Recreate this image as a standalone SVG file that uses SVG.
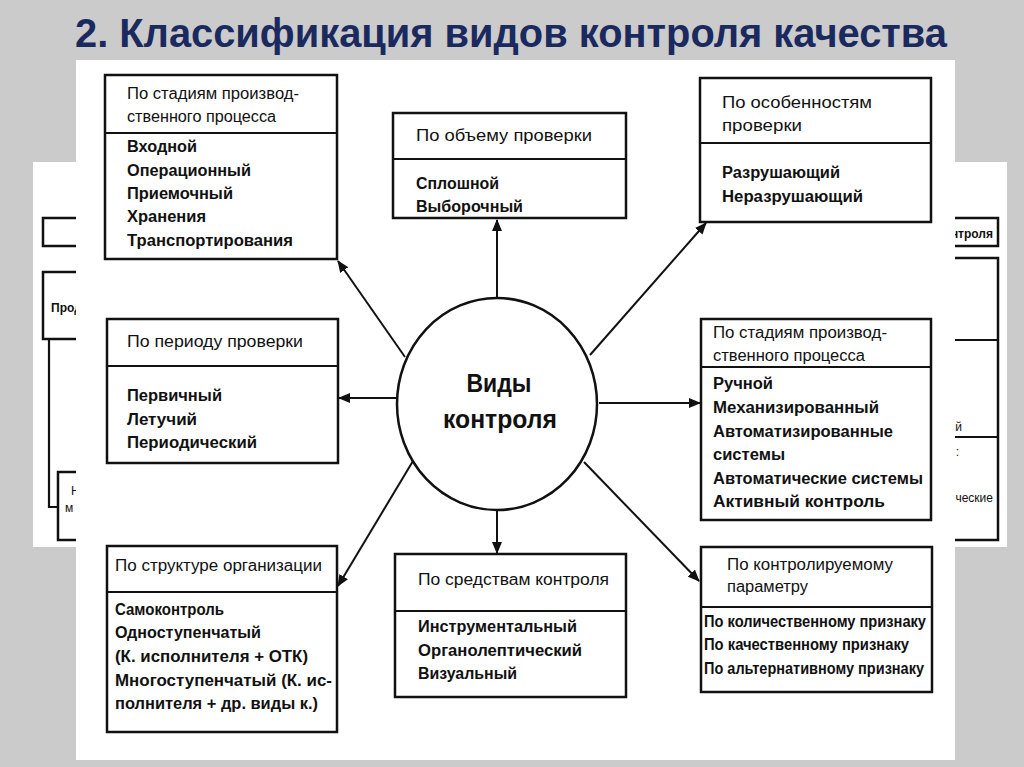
<svg xmlns="http://www.w3.org/2000/svg" width="1024" height="767" viewBox="0 0 1024 767">
<style>
.box{fill:#fff;stroke:#111;stroke-width:2.5}
.ln{stroke:#111;stroke-width:2.2;fill:none}
.hd{font-family:"Liberation Sans","DejaVu Sans",sans-serif;font-size:16px;fill:#111}
.bd{font-family:"Liberation Sans","DejaVu Sans",sans-serif;font-size:16px;font-weight:bold;fill:#111}
.sm{font-family:"Liberation Sans","DejaVu Sans",sans-serif;font-size:12px;fill:#111}
.con{stroke:#111;stroke-width:2;fill:none;marker-end:url(#ah)}
</style>
<defs>
<marker id="ah" markerWidth="12" markerHeight="10" refX="11" refY="5" orient="auto" markerUnits="userSpaceOnUse">
<path d="M0,0 L12,5 L0,10 Z" fill="#111"/>
</marker>
</defs>
<rect x="0" y="0" width="1024" height="767" fill="#cbcbcb"/>
<text x="75" y="47" font-family="'Liberation Sans',Arial,sans-serif" font-size="41" font-weight="bold" fill="#1b2a5e" textLength="872" lengthAdjust="spacingAndGlyphs">2. Классификация видов контроля качества</text>

<g id="background-slide">
<rect x="33" y="162" width="974" height="385" fill="#fff"/>
<rect x="43" y="218" width="60" height="28" class="box" stroke-width="2"/>
<rect x="43" y="272" width="60" height="67" class="box" stroke-width="2"/>
<text x="51" y="312" class="sm" font-weight="bold">Прод</text>
<path d="M49,339 V507 H58" class="ln"/>
<rect x="58" y="472" width="50" height="68" class="box" stroke-width="2"/>
<text x="71" y="495" class="sm">Н</text>
<text x="65" y="512" class="sm" font-size="10">м</text>
<rect x="930" y="218" width="68" height="28" class="box" stroke-width="2"/>
<text x="993" y="238" class="sm" font-weight="bold" text-anchor="end">нтроля</text>
<rect x="930" y="258" width="68" height="282" class="box" stroke-width="2"/>
<path d="M930,340 H998 M930,437 H998" class="ln" stroke-width="2"/>
<text x="962" y="431" class="sm" text-anchor="end">й</text>
<text x="959" y="456" class="sm" text-anchor="end">:</text>
<text x="993" y="502" class="sm" text-anchor="end">ческие</text>
</g>

<rect x="76" y="60" width="879" height="700" fill="#fff"/>

<g id="connectors">
<line x1="497" y1="298" x2="497" y2="220" class="con"/>
<line x1="405" y1="357" x2="338" y2="261" class="con"/>
<line x1="590" y1="355" x2="706" y2="223" class="con"/>
<line x1="397" y1="398" x2="339" y2="398" class="con"/>
<line x1="599" y1="403" x2="700" y2="403" class="con"/>
<line x1="413" y1="461" x2="338" y2="586" class="con"/>
<line x1="497" y1="510" x2="497" y2="553" class="con"/>
<line x1="584" y1="462" x2="699" y2="581" class="con"/>
</g>

<g id="center">
<ellipse cx="497" cy="404" rx="100" ry="106" class="box"/>
<text x="499" y="392" font-family="'Liberation Sans',Arial,sans-serif" font-size="25" font-weight="bold" fill="#111" text-anchor="middle" textLength="65" lengthAdjust="spacingAndGlyphs">Виды</text>
<text x="500" y="428" font-family="'Liberation Sans',Arial,sans-serif" font-size="25" font-weight="bold" fill="#111" text-anchor="middle" textLength="114" lengthAdjust="spacingAndGlyphs">контроля</text>
</g>

<g id="box-stages">
<rect x="105" y="75" width="232" height="184" class="box"/>
<line x1="105" y1="133" x2="337" y2="133" class="ln"/>
<text x="127" y="99" class="hd" textLength="172" lengthAdjust="spacingAndGlyphs">По стадиям производ-</text>
<text x="127" y="122" class="hd" textLength="149" lengthAdjust="spacingAndGlyphs">ственного процесса</text>
<text x="127" y="152" class="bd" textLength="70" lengthAdjust="spacingAndGlyphs">Входной</text>
<text x="127" y="176" class="bd" textLength="124" lengthAdjust="spacingAndGlyphs">Операционный</text>
<text x="127" y="199" class="bd" textLength="106" lengthAdjust="spacingAndGlyphs">Приемочный</text>
<text x="127" y="222" class="bd" textLength="79" lengthAdjust="spacingAndGlyphs">Хранения</text>
<text x="127" y="246" class="bd" textLength="166" lengthAdjust="spacingAndGlyphs">Транспортирования</text>
</g>

<g id="box-volume">
<rect x="393" y="113" width="233" height="105" class="box"/>
<line x1="393" y1="159" x2="626" y2="159" class="ln"/>
<text x="416" y="141" class="hd" textLength="176" lengthAdjust="spacingAndGlyphs">По  объему проверки</text>
<text x="416" y="189" class="bd" textLength="83" lengthAdjust="spacingAndGlyphs">Сплошной</text>
<text x="416" y="212" class="bd" textLength="107" lengthAdjust="spacingAndGlyphs">Выборочный</text>
</g>

<g id="box-features">
<rect x="700" y="78" width="231" height="144" class="box"/>
<line x1="700" y1="143" x2="931" y2="143" class="ln"/>
<text x="722" y="108" class="hd" textLength="150" lengthAdjust="spacingAndGlyphs">По  особенностям</text>
<text x="722" y="131" class="hd" textLength="80" lengthAdjust="spacingAndGlyphs">проверки</text>
<text x="722" y="178" class="bd" textLength="118" lengthAdjust="spacingAndGlyphs">Разрушающий</text>
<text x="722" y="202" class="bd" textLength="141" lengthAdjust="spacingAndGlyphs">Неразрушающий</text>
</g>

<g id="box-period">
<rect x="107" y="319" width="231" height="144" class="box"/>
<line x1="107" y1="366" x2="338" y2="366" class="ln"/>
<text x="127" y="347" class="hd" textLength="176" lengthAdjust="spacingAndGlyphs">По  периоду  проверки</text>
<text x="127" y="401" class="bd" textLength="95" lengthAdjust="spacingAndGlyphs">Первичный</text>
<text x="127" y="425" class="bd" textLength="70" lengthAdjust="spacingAndGlyphs">Летучий</text>
<text x="127" y="448" class="bd" textLength="130" lengthAdjust="spacingAndGlyphs">Периодический</text>
</g>

<g id="box-mechanization">
<rect x="701" y="319" width="230" height="201" class="box"/>
<line x1="701" y1="367" x2="931" y2="367" class="ln"/>
<text x="713" y="338" class="hd" textLength="174" lengthAdjust="spacingAndGlyphs">По стадиям производ-</text>
<text x="713" y="361" class="hd" textLength="152" lengthAdjust="spacingAndGlyphs">ственного процесса</text>
<text x="713" y="389" class="bd" textLength="60" lengthAdjust="spacingAndGlyphs">Ручной</text>
<text x="713" y="413" class="bd" textLength="166" lengthAdjust="spacingAndGlyphs">Механизированный</text>
<text x="713" y="437" class="bd" textLength="180" lengthAdjust="spacingAndGlyphs">Автоматизированные</text>
<text x="713" y="460" class="bd" textLength="72" lengthAdjust="spacingAndGlyphs">системы</text>
<text x="713" y="484" class="bd" textLength="210" lengthAdjust="spacingAndGlyphs">Автоматические системы</text>
<text x="713" y="507" class="bd" textLength="172" lengthAdjust="spacingAndGlyphs">Активный контроль</text>
</g>

<g id="box-structure">
<rect x="107" y="546" width="230" height="186" class="box"/>
<line x1="107" y1="592" x2="337" y2="592" class="ln"/>
<text x="115" y="571" class="hd" textLength="207" lengthAdjust="spacingAndGlyphs">По структуре организации</text>
<text x="115" y="615" class="bd" textLength="109" lengthAdjust="spacingAndGlyphs">Самоконтроль</text>
<text x="115" y="638" class="bd" textLength="146" lengthAdjust="spacingAndGlyphs">Одноступенчатый</text>
<text x="115" y="662" class="bd" textLength="193" lengthAdjust="spacingAndGlyphs">(К. исполнителя + ОТК)</text>
<text x="115" y="686" class="bd" textLength="217" lengthAdjust="spacingAndGlyphs">Многоступенчатый (К. ис-</text>
<text x="115" y="709" class="bd" textLength="203" lengthAdjust="spacingAndGlyphs">полнителя + др. виды к.)</text>
</g>

<g id="box-means">
<rect x="395" y="554" width="231" height="143" class="box"/>
<line x1="395" y1="611" x2="626" y2="611" class="ln"/>
<text x="418" y="585" class="hd" textLength="191" lengthAdjust="spacingAndGlyphs">По  средствам  контроля</text>
<text x="418" y="632" class="bd" textLength="159" lengthAdjust="spacingAndGlyphs">Инструментальный</text>
<text x="418" y="656" class="bd" textLength="164" lengthAdjust="spacingAndGlyphs">Органолептический</text>
<text x="418" y="679" class="bd" textLength="99" lengthAdjust="spacingAndGlyphs">Визуальный</text>
</g>

<g id="box-parameter">
<rect x="701" y="547" width="231" height="145" class="box"/>
<line x1="701" y1="607" x2="932" y2="607" class="ln"/>
<text x="727" y="570" class="hd" textLength="166" lengthAdjust="spacingAndGlyphs">По  контролируемому</text>
<text x="727" y="592" class="hd" textLength="81" lengthAdjust="spacingAndGlyphs">параметру</text>
<text x="704" y="627" class="bd" font-size="14" textLength="222" lengthAdjust="spacingAndGlyphs">По количественному признаку</text>
<text x="704" y="650" class="bd" font-size="14" textLength="205" lengthAdjust="spacingAndGlyphs">По качественному признаку</text>
<text x="704" y="674" class="bd" font-size="14" textLength="220" lengthAdjust="spacingAndGlyphs">По альтернативному признаку</text>
</g>
</svg>
